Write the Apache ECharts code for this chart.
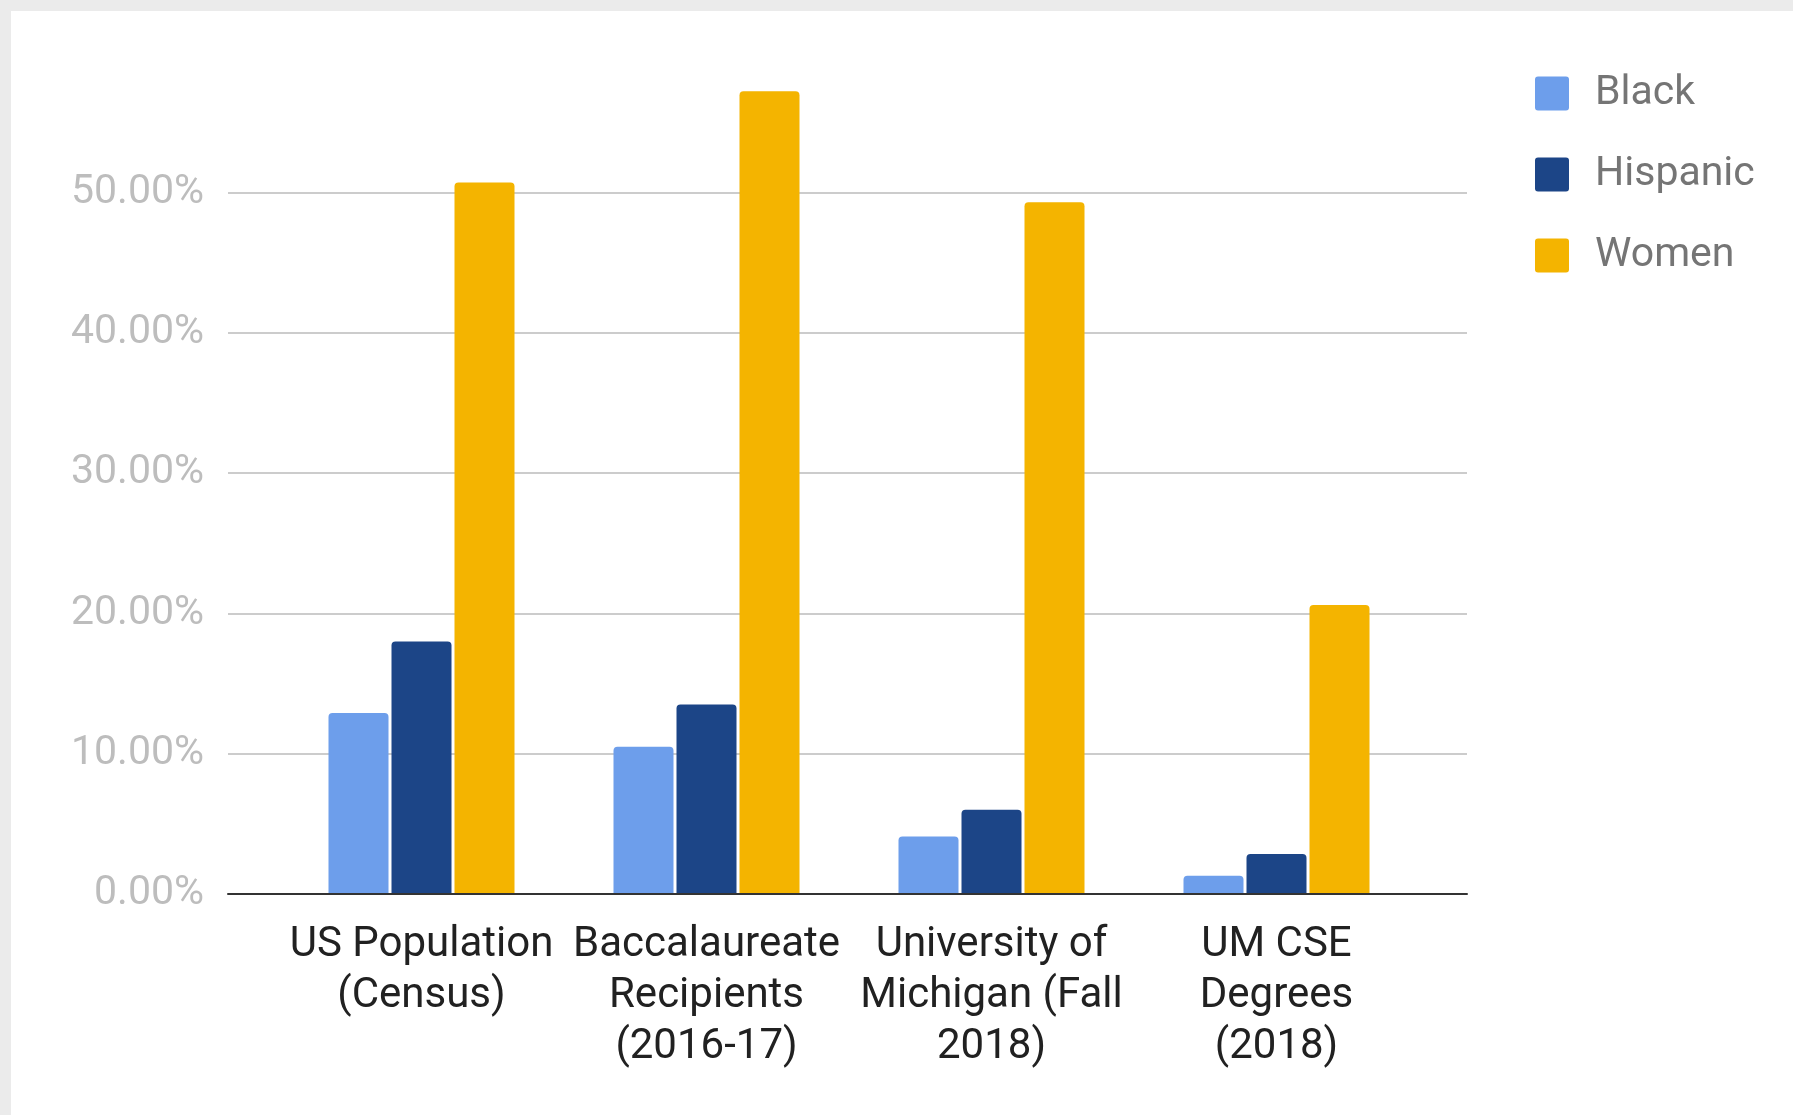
<!DOCTYPE html>
<html>
<head>
<meta charset="utf-8">
<script src="https://cdn.jsdelivr.net/npm/echarts@6/dist/echarts.min.js"></script>
<style>
  html, body { margin: 0; padding: 0; width: 1793px; height: 1115px; overflow: hidden; background: #ebebeb; }
  #panel { position: absolute; left: 11px; top: 11px; right: 0; bottom: 0; background: #ffffff; }
  #chart { position: absolute; left: 0; top: 0; width: 1793px; height: 1115px; }
</style>
</head>
<body>
<div id="panel"></div>
<div id="chart"></div>
<script>
// Categories (x axis) and series values, in percent
const categories = [
  'US Population\n(Census)',
  'Baccalaureate\nRecipients\n(2016-17)',
  'University of\nMichigan (Fall\n2018)',
  'UM CSE\nDegrees\n(2018)'
];
const seriesNames = ['Black', 'Hispanic', 'Women'];
const black    = [12.9, 10.5, 4.1, 1.3];
const hispanic = [18.0, 13.5, 6.0, 2.85];
const women    = [50.7, 57.2, 49.3, 20.6];
const seriesColors = ['#6d9eeb', '#1c4587', '#f4b400'];

const FONT = 'Roboto';
const Y_MAX = 60;
const Y_STEP = 10;

const chart = echarts.init(document.getElementById('chart'), null, { renderer: 'canvas' });

const barStyle = (color) => ({ color: color, borderRadius: [4, 4, 0, 0] });

const option = {
  backgroundColor: 'transparent',
  animation: false,
  textStyle: { fontFamily: FONT },
  legend: {
    orient: 'vertical',
    left: 1530,
    top: 68,
    itemWidth: 34,
    itemHeight: 34,
    itemGap: 40,
    icon: 'path://M3,0 H31 A3,3 0 0 1 34,3 V31 A3,3 0 0 1 31,34 H3 A3,3 0 0 1 0,31 V3 A3,3 0 0 1 3,0 Z',
    data: seriesNames,
    textStyle: { fontFamily: FONT, fontSize: 41, color: '#757575', padding: [0, 0, 0, 21] }
  },
  grid: [
    // wide grid: gridlines, y labels and baseline
    { left: 228, right: 326, top: 52, bottom: 221 },
    // category grid holding the bars
    { left: 279, right: 374, top: 52, bottom: 221 }
  ],
  xAxis: [
    {
      gridIndex: 0, type: 'value', min: 0, max: 1, z: 5,
      axisLine: { show: true, lineStyle: { color: '#333333', width: 2 } },
      axisTick: { show: false }, axisLabel: { show: false }, splitLine: { show: false }
    },
    {
      gridIndex: 1, type: 'category', data: categories,
      axisLine: { show: false }, axisTick: { show: false },
      axisLabel: {
        interval: 0, margin: 26, fontFamily: FONT, fontSize: 42, lineHeight: 51,
        color: '#212121', align: 'center'
      }
    }
  ],
  yAxis: [
    {
      gridIndex: 0, type: 'value', min: 0, max: Y_MAX, interval: Y_STEP,
      axisLine: { show: false }, axisTick: { show: false },
      axisLabel: {
        showMaxLabel: false, margin: 24, fontFamily: FONT, fontSize: 41, color: '#bdbdbd',
        padding: [9, 0, 0, 0],
        formatter: (v) => v.toFixed(2) + '%'
      },
      splitLine: { show: true, showMaxLine: false, lineStyle: { color: '#cccccc', width: 2 } }
    },
    {
      gridIndex: 1, type: 'value', min: 0, max: Y_MAX, interval: Y_STEP, show: false,
      splitLine: { show: false }
    }
  ],
  series: [
    { name: seriesNames[0], type: 'bar', xAxisIndex: 1, yAxisIndex: 1, data: black,
      barWidth: 60, barGap: '5%', itemStyle: barStyle(seriesColors[0]) },
    { name: seriesNames[1], type: 'bar', xAxisIndex: 1, yAxisIndex: 1, data: hispanic,
      barWidth: 60, barGap: '5%', itemStyle: barStyle(seriesColors[1]) },
    { name: seriesNames[2], type: 'bar', xAxisIndex: 1, yAxisIndex: 1, data: women,
      barWidth: 60, barGap: '5%', itemStyle: barStyle(seriesColors[2]) }
  ]
};

chart.setOption(option);
</script>
</body>
</html>
